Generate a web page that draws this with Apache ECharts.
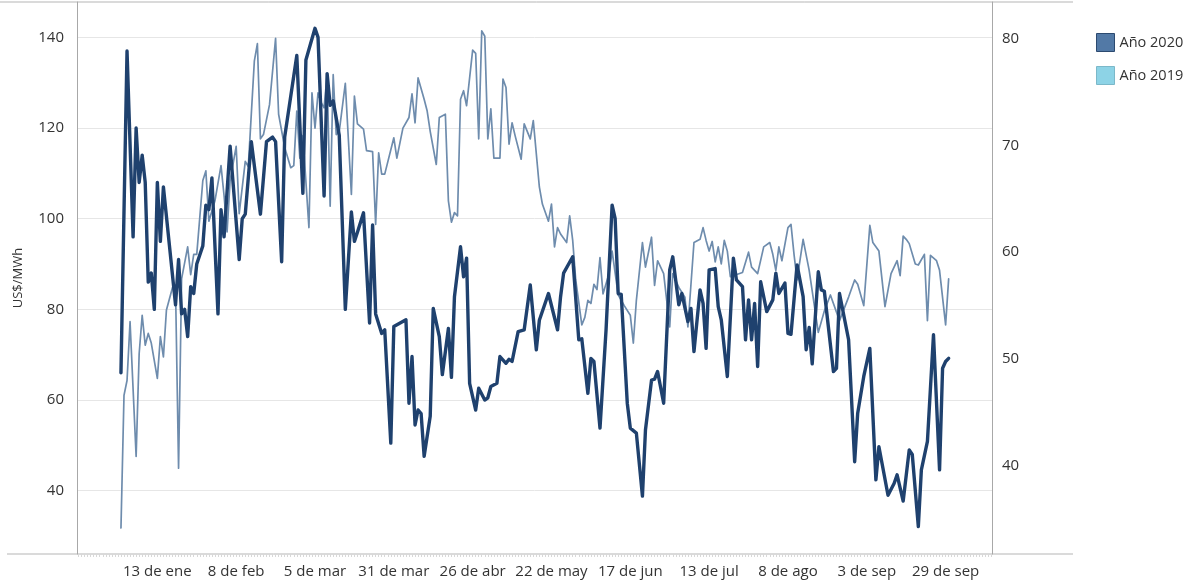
<!DOCTYPE html>
<html>
<head>
<meta charset="utf-8">
<script src="https://cdn.jsdelivr.net/npm/echarts@6/dist/echarts.min.js"></script>
<style>
  html, body { margin: 0; padding: 0; background: #fff; }
  #chart { width: 1199px; height: 584px; }
</style>
</head>
<body>
<div id="chart"></div>
<script>
// dias = dia del año desde el 1 de enero (0 = 1 ene)
const dias2020 = [0, 2, 4, 5, 6, 7, 8, 9, 10, 11, 12, 13, 14, 18, 19, 20, 21, 22, 23, 24, 25, 27, 28, 29, 30, 32, 33, 34, 36, 39, 40, 41, 43, 46, 48, 50, 51, 53, 54, 58, 60, 61, 64, 65, 67, 68, 69, 70, 72, 74, 76, 77, 78, 80, 82, 83, 84, 86, 87, 89, 90, 94, 95, 96, 97, 98, 99, 100, 102, 103, 105, 106, 108, 109, 110, 112, 113, 114, 115, 117, 118, 120, 121, 122, 124, 125, 127, 128, 129, 131, 133, 135, 137, 138, 141, 144, 145, 146, 149, 151, 152, 154, 155, 156, 158, 160, 162, 163, 164, 165, 167, 168, 170, 172, 173, 175, 176, 177, 179, 181, 182, 184, 185, 187, 188, 189, 191, 192, 193, 194, 196, 197, 198, 200, 202, 203, 205, 206, 207, 208, 209, 210, 211, 213, 215, 216, 217, 219, 220, 221, 223, 225, 226, 227, 228, 230, 231, 232, 235, 236, 237, 240, 242, 243, 245, 247, 249, 250, 253, 255, 256, 258, 260, 261, 263, 264, 266, 268, 270, 271, 272, 273];
const precios2020 = [66, 137, 96, 120, 108, 114, 108, 86, 88, 80, 108, 95, 107, 81, 91, 79, 80, 74, 85, 83.5, 90, 94, 103, 102, 109, 79, 102, 96, 116, 91, 100, 101, 117, 101, 117, 118, 117, 90.5, 118, 136, 105.6, 135, 142, 140, 105, 132, 125, 126, 118.4, 80, 101.5, 95, 97, 101.3, 77, 98.6, 79, 74.7, 75.5, 50.5, 76.2, 77.7, 59.3, 69.6, 54.5, 57.8, 57, 47.6, 56.4, 80.2, 74, 65.6, 75.8, 65, 82.8, 93.8, 87.2, 91.3, 63.7, 57.8, 62.6, 60, 60.5, 63, 63.7, 69.6, 68.1, 69, 68.5, 75.1, 75.5, 85.4, 71.1, 77.6, 83.5, 75.5, 82.8, 88, 91.6, 73.3, 73.5, 61.5, 69.2, 68.5, 53.8, 75.5, 103, 100, 83.5, 83.3, 59.3, 53.8, 52.7, 38.8, 53.4, 64.4, 64.6, 66.3, 59.3, 88.7, 91.6, 81, 83.5, 77.3, 80.2, 70.7, 84.3, 81.3, 71.4, 88.7, 89, 80.6, 77.7, 65.2, 91.3, 86.5, 85, 73.3, 82.1, 73.3, 81.3, 67.4, 86.1, 79.5, 82.1, 88, 83.5, 85.8, 74.7, 74.5, 89.8, 82.8, 71.1, 76, 68, 88.3, 84.3, 84, 66.3, 67, 83.5, 73.3, 46.4, 57.1, 65.2, 71.4, 42.4, 49.7, 39, 41.6, 43.5, 37.7, 49, 48, 32.1, 44.6, 50.9, 74.4, 44.6, 67, 68.5, 69.2];

const dias2019 = [0, 1, 2, 3, 5, 6, 7, 8, 9, 10, 12, 13, 14, 15, 17, 18, 19, 20, 22, 23, 24, 25, 27, 28, 29, 31, 33, 34, 35, 36, 38, 39, 41, 42, 44, 45, 46, 47, 49, 51, 52, 54, 56, 57, 58, 59, 60, 62, 63, 64, 65, 66, 67, 68, 69, 70, 71, 72, 74, 76, 77, 78, 80, 81, 83, 84, 85, 86, 87, 90, 91, 93, 95, 96, 97, 98, 100, 101, 102, 104, 105, 107, 108, 109, 110, 111, 112, 113, 114, 116, 117, 118, 119, 120, 121, 122, 123, 125, 126, 127, 128, 129, 130, 132, 133, 135, 136, 138, 139, 141, 142, 143, 144, 145, 147, 148, 149, 150, 152, 153, 154, 155, 156, 157, 158, 159, 161, 162, 164, 166, 168, 169, 170, 172, 173, 175, 176, 177, 179, 181, 182, 184, 186, 187, 189, 191, 192, 193, 194, 195, 196, 197, 198, 199, 200, 201, 205, 207, 208, 210, 212, 214, 215, 216, 217, 218, 220, 221, 222, 223, 225, 227, 230, 232, 234, 237, 240, 242, 243, 245, 247, 248, 250, 252, 254, 256, 257, 258, 259, 260, 262, 263, 265, 266, 267, 269, 270, 272, 273];
const precios2019 = [34.2, 46.6, 48, 53.5, 40.9, 50.5, 54.1, 51.3, 52.4, 51.5, 48.2, 52.1, 50.2, 54.6, 56.7, 56.6, 39.8, 57.5, 60.5, 57.9, 59.8, 59.8, 66.7, 67.6, 62.9, 64.8, 68.1, 65.3, 61.9, 66.7, 69.9, 63.6, 68.5, 68, 77.9, 79.5, 70.6, 71, 73.8, 80, 72.9, 69.8, 67.9, 68.1, 73.2, 68.8, 70.9, 62.3, 74.9, 71.6, 74.9, 74, 73.5, 76.6, 64.3, 76.6, 71, 71.3, 75.8, 65.4, 74.6, 72, 71.5, 69.5, 69.4, 62.6, 69.3, 67.3, 67.3, 70.7, 68.8, 71.6, 72.6, 74.8, 72.1, 76.3, 74.3, 73.2, 71.3, 68.2, 72.6, 72.9, 64.8, 62.8, 63.7, 63.4, 74.3, 75.1, 73.7, 78.9, 78.6, 70.6, 80.7, 80.2, 70.6, 73.4, 68.8, 68.8, 76.2, 75.4, 70.1, 72.1, 70.9, 68.7, 72, 70.6, 72.3, 66.1, 64.5, 62.9, 64.5, 60.5, 62.3, 61.7, 60.9, 63.4, 61.1, 57.4, 53.2, 53.9, 55.5, 55.2, 57, 56.5, 59.5, 56.1, 58, 60.1, 56, 55, 54.1, 51.5, 55.5, 60.9, 58.6, 61.4, 56.9, 59.2, 58, 53, 58, 56.7, 55.8, 53, 60.9, 61.2, 62.3, 61.1, 60.1, 61, 59.1, 60.5, 58.9, 61.1, 60.1, 57.7, 58.1, 60, 58.6, 58, 60.5, 60.9, 59.8, 58.3, 60.5, 59.2, 62.3, 62.6, 59.8, 57.4, 61.2, 58.3, 52.5, 54.5, 56, 53.6, 55.8, 57.4, 57, 55, 62.5, 60.9, 60.1, 54.9, 58, 59.2, 57.8, 61.5, 61.2, 60.8, 58.9, 58.8, 59.8, 53.6, 59.7, 59.2, 58.3, 53.2, 57.5];

// etiquetas del eje X (cada 26 dias) y del eje Y
const diasEtiqueta = [12, 38, 64, 90, 116, 142, 168, 194, 220, 246, 272];
const ticksIzq = [40, 60, 80, 100, 120, 140];
const ticksDer = [40, 50, 60, 70, 80];
const meses = ['ene', 'feb', 'mar', 'abr', 'may', 'jun', 'jul', 'ago', 'sep', 'oct', 'nov', 'dic'];

function fecha (d) {
  const f = new Date(Date.UTC(2020, 0, 1 + d));
  return f.getUTCDate() + ' de ' + meses[f.getUTCMonth()];
}

const diasTodos = [];
for (let d = -14; d <= 287; d++) diasTodos.push(d);

const serie2020 = dias2020.map((d, i) => [d, precios2020[i]]);
const serie2019 = dias2019.map((d, i) => [d, precios2019[i]]);

const fuente = '"Open Sans", "DejaVu Sans", sans-serif';
const chart = echarts.init(document.getElementById('chart'), null, { renderer: 'canvas' });

const option = {
  animation: false,
  backgroundColor: '#fff',
  textStyle: { fontFamily: fuente },
  grid: { left: 77, right: 207, top: 2, bottom: 30 },
  legend: {
    orient: 'vertical',
    left: 1091,
    top: 28,
    icon: 'rect',
    itemWidth: 18,
    itemHeight: 18,
    itemGap: 14,
    textStyle: { fontSize: 14.5, color: '#333', fontFamily: fuente },
    data: [
      { name: 'Año 2020', itemStyle: { color: '#5279a6', borderColor: '#2c4a70', borderWidth: 1 } },
      { name: 'Año 2019', itemStyle: { color: '#8dd3e6', borderColor: '#7bb8c9', borderWidth: 1 } }
    ]
  },
  graphic: [
    { type: 'line', shape: { x1: 0, y1: 2, x2: 1073, y2: 2 }, style: { stroke: '#b5b5b5', lineWidth: 1 } },
    { type: 'line', shape: { x1: 7, y1: 554, x2: 1073, y2: 554 }, style: { stroke: '#b5b5b5', lineWidth: 1 } }
  ],
  xAxis: {
    type: 'value',
    min: -14.5,
    max: 287.3,
    axisLine: { show: false },
    axisTick: { show: true, customValues: diasTodos, length: 3, lineStyle: { color: '#d8d8d8' } },
    axisLabel: {
      customValues: diasEtiqueta,
      formatter: (v) => fecha(v),
      fontSize: 15,
      color: '#333',
      margin: 10,
      fontFamily: fuente
    },
    splitLine: { show: false }
  },
  yAxis: [
    {
      type: 'value',
      position: 'left',
      min: 26.04,
      max: 147.8,
      name: 'US$/MWh',
      nameLocation: 'middle',
      nameGap: 52,
      nameTextStyle: { fontSize: 13, color: '#333', fontFamily: fuente },
      axisLine: { show: true, onZero: false, lineStyle: { color: '#a8a8a8' } },
      axisTick: { show: false, customValues: ticksIzq },
      axisLabel: { customValues: ticksIzq, fontSize: 15, color: '#333', margin: 13, fontFamily: fuente },
      splitLine: { show: true, lineStyle: { color: '#e6e6e6' } }
    },
    {
      type: 'value',
      position: 'right',
      min: 31.77,
      max: 83.4,
      axisLine: { show: true, onZero: false, lineStyle: { color: '#a8a8a8' } },
      axisTick: { show: false, customValues: ticksDer },
      axisLabel: { customValues: ticksDer, fontSize: 15, color: '#333', margin: 10, fontFamily: fuente },
      splitLine: { show: false }
    }
  ],
  series: [
    {
      name: 'Año 2019',
      type: 'line',
      yAxisIndex: 1,
      data: serie2019,
      showSymbol: false,
      lineStyle: { color: '#6e8cad', width: 1.7, join: 'round', cap: 'round' },
      itemStyle: { color: '#8dd3e6' },
      z: 2
    },
    {
      name: 'Año 2020',
      type: 'line',
      yAxisIndex: 0,
      data: serie2020,
      showSymbol: false,
      lineStyle: { color: '#1f416e', width: 3.4, join: 'round', cap: 'round' },
      itemStyle: { color: '#5279a6' },
      z: 3
    }
  ]
};

chart.setOption(option);
</script>
</body>
</html>
